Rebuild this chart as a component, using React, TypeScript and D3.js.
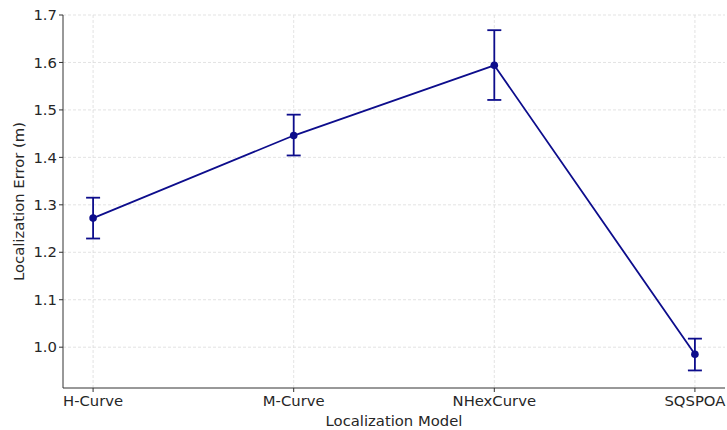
import React from "react";
import * as d3 from "d3";

const categories = ["H-Curve", "M-Curve", "NHexCurve", "SQSPOA"];
const meanError = [1.272, 1.446, 1.594, 0.985];
const errLow = [1.229, 1.404, 1.521, 0.951];
const errHigh = [1.315, 1.490, 1.668, 1.018];
const yTicks = [1.0, 1.1, 1.2, 1.3, 1.4, 1.5, 1.6, 1.7];

const W = 727, H = 430;
const margin = { left: 63, right: 2, top: 15, bottom: 42 };
const color = "#0d0d8c";
const font = "DejaVu Sans, sans-serif";
const fs = 14.8;

export default function App() {
  const x = d3.scaleLinear().domain([-0.15, categories.length - 1 + 0.15]).range([margin.left, W - margin.right]);
  const y = d3.scaleLinear().domain([0.914, 1.7]).range([H - margin.bottom, margin.top]);
  const line = d3.line<number>().x((_, i) => x(i)).y((d) => y(d));
  const x0 = margin.left, x1 = W - margin.right, yb = H - margin.bottom, yt = margin.top;
  return (
    <svg width={W} height={H} style={{ position: "absolute", left: 0, top: 0 }}>
      <rect x={0} y={0} width={W} height={H} fill="#fff" />
      {yTicks.map((t) => (
        <line key={"gy" + t} x1={x0} x2={x1} y1={y(t)} y2={y(t)} stroke="#dcdcdc" strokeWidth={0.8} strokeDasharray="3,2" />
      ))}
      {categories.map((c, i) => (
        <line key={"gx" + c} x1={x(i)} x2={x(i)} y1={yt} y2={yb} stroke="#dcdcdc" strokeWidth={0.8} strokeDasharray="3,2" />
      ))}
      <line x1={x0} x2={x0} y1={yt} y2={yb} stroke="#333" strokeWidth={1} />
      <line x1={x0} x2={x1} y1={yb} y2={yb} stroke="#333" strokeWidth={1} />
      {yTicks.map((t) => (
        <g key={"ty" + t}>
          <line x1={x0 - 4} x2={x0} y1={y(t)} y2={y(t)} stroke="#333" strokeWidth={1} />
          <text x={x0 - 6} y={y(t)} dy="0.35em" textAnchor="end" fontSize={fs} fontFamily={font} fill="#262626">{t.toFixed(1)}</text>
        </g>
      ))}
      {categories.map((c, i) => (
        <g key={"tx" + c}>
          <line x1={x(i)} x2={x(i)} y1={yb} y2={yb + 4} stroke="#333" strokeWidth={1} />
          <text x={x(i)} y={yb + 18} textAnchor="middle" fontSize={fs} fontFamily={font} fill="#262626">{c}</text>
        </g>
      ))}
      <text x={(x0 + x1) / 2} y={H - 4} textAnchor="middle" fontSize={fs} fontFamily={font} fill="#262626">Localization Model</text>
      <text transform={`translate(24,${(yt + yb) / 2}) rotate(-90)`} textAnchor="middle" fontSize={fs} fontFamily={font} fill="#262626">Localization Error (m)</text>
      <path d={line(meanError) || ""} fill="none" stroke={color} strokeWidth={1.8} />
      {categories.map((c, i) => (
        <g key={"e" + c} stroke={color} strokeWidth={1.8}>
          <line x1={x(i)} x2={x(i)} y1={y(errLow[i])} y2={y(errHigh[i])} />
          <line x1={x(i) - 7} x2={x(i) + 7} y1={y(errLow[i])} y2={y(errLow[i])} />
          <line x1={x(i) - 7} x2={x(i) + 7} y1={y(errHigh[i])} y2={y(errHigh[i])} />
        </g>
      ))}
      {meanError.map((v, i) => (
        <circle key={"p" + i} cx={x(i)} cy={y(v)} r={3.8} fill={color} />
      ))}
    </svg>
  );
}
